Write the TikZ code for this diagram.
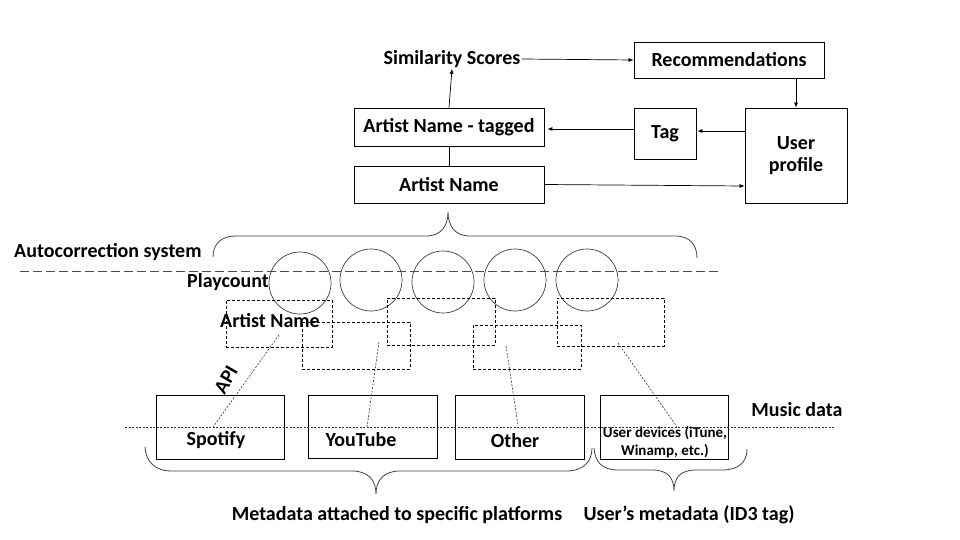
\documentclass[tikz,border=0pt]{standalone}
\usepackage{fontspec}
\setmainfont{Carlito}
\usetikzlibrary{arrows.meta,calc}
\begin{document}
\begin{tikzpicture}[x=1pt,y=-1pt,
  box/.style={draw, line width=0.8pt, inner sep=0pt, font=\fontsize{20}{22}\selectfont\bfseries, align=center},
  lbl/.style={inner sep=1pt, font=\fontsize{20}{22}\selectfont\bfseries, align=center},
  small/.style={inner sep=1pt, font=\fontsize{15}{18}\selectfont\bfseries, align=center},
  circ/.style={draw=black!75, circle, minimum size=62pt, inner sep=0pt, line width=0.7pt},
  drect/.style={draw, dash pattern=on 3pt off 2pt, line width=0.7pt, inner sep=0pt},
  arr/.style={-{Latex[length=5pt,width=4pt]}, line width=0.7pt},
  dline/.style={dash pattern=on 2pt off 1.5pt, line width=0.6pt, draw=black!80},
  longdash/.style={dash pattern=on 9pt off 4pt, line width=0.8pt, draw=black!70},
  brace/.style={line width=0.8pt, draw=black!75}
]
\useasboundingbox (0,0) rectangle (960,540);

% top part
\node[box, minimum width=190pt, minimum height=36pt] (rec) at (729,60) {Recommendations};
\node[box, minimum width=190pt, minimum height=38pt] (tagged) at (449,127) {Artist Name - tagged};
\node[box, minimum width=190pt, minimum height=37pt] (an) at (449,184.5) {Artist Name};
\node[box, minimum width=62pt, minimum height=51pt] (tag) at (665,133.5) {Tag};
\node[box, minimum width=102pt, minimum height=95pt] (up) at (796,155.5) {User\\profile};
\node[lbl] (ss) at (452,59) {Similarity Scores};

\draw[arr] (ss.east) -- (rec.west);
\draw[arr] (tagged.north) -- (ss.south);
\draw[line width=0.8pt] (an.north) -- (tagged.south);
\draw[arr] (up.north |- rec.south) -- (up.north);
\draw[arr] ($(up.west)+(0,-24.5)$) -- ($(tag.east)+(1,-2.5)$);
\draw[arr] ($(tag.west)+(0,-4.5)$) -- ($(tagged.east)+(3,2)$);
\draw[arr] (an.east) -- ($(up.west)+(0,30.5)$);

% autocorrection brace
\draw[brace] (213,257) .. controls (213,244) and (221,236) .. (236,236) -- (426,236)
  .. controls (441,236) and (448,226) .. (448,212)
  .. controls (448,226) and (455,236) .. (470,236) -- (675,236)
  .. controls (690,236) and (697,245) .. (697,258);
\node[lbl, anchor=west] (auto) at (13,252) {Autocorrection system};
\coordinate (dl1) at (20,271);
\coordinate (dl2) at (720,271);
\draw[longdash] (dl1) -- (dl2);
\node[lbl] (pc) at (228,282) {Playcount};

% circles
\node[circ] (c1) at (300,283) {};
\node[circ] (c2) at (371,280) {};
\node[circ] (c3) at (443,282) {};
\node[circ] (c4) at (515,280) {};
\node[circ] (c5) at (587,280) {};

% dashed rectangles
\node[drect, minimum width=106pt, minimum height=47pt] (r1) at (279,323.5) {};
\node[drect, minimum width=108pt, minimum height=47pt] (r2) at (356,345.5) {};
\node[drect, minimum width=108pt, minimum height=47pt] (r3) at (441,321.5) {};
\node[drect, minimum width=108pt, minimum height=44pt] (r4) at (527,347) {};
\node[drect, minimum width=107pt, minimum height=48pt] (r5) at (610.5,322) {};
\node[lbl] (anl) at (270,321) {Artist Name};

% bottom boxes
\node[box, minimum width=128pt, minimum height=64pt] (sp) at (220,427) {};
\node[box, minimum width=129pt, minimum height=63pt] (yt) at (372.5,426.5) {};
\node[box, minimum width=129pt, minimum height=64pt] (ot) at (519.5,427) {};
\node[box, minimum width=128pt, minimum height=64pt] (ud) at (664,427) {};
\node[lbl] (spt) at (216,440) {Spotify};
\node[lbl] (ytt) at (361,440) {YouTube};
\node[lbl] (ott) at (515,441) {Other};
\node[small] (udt) at (665,442) {User devices (iTune,\\Winamp, etc.)};

\coordinate (ml1) at (125,427);
\coordinate (ml2) at (835,427);
\draw[dline] (ml1) -- (ml2);
\node[lbl] (md) at (797,410) {Music data};

% dotted connections
\coordinate (s1) at (279,335); \coordinate (e1) at (213,427);
\coordinate (s2) at (379,342); \coordinate (e2) at (367,427);
\coordinate (s3) at (506,346); \coordinate (e3) at (518,425);
\coordinate (s4) at (618,343); \coordinate (e4) at (677,427);
\draw[dline] (s1) -- (e1);
\draw[dline] (s2) -- (e2);
\draw[dline] (s3) -- (e3);
\draw[dline] (s4) -- (e4);
\node[lbl, rotate=60, inner sep=0pt] (api) at (226,380) {API};

% bottom braces
\draw[brace] (145,447) .. controls (146,462) and (155,471) .. (172,471) -- (352,471)
  .. controls (368,471) and (376,480) .. (376,494)
  .. controls (376,480) and (384,471) .. (400,471) -- (566,471)
  .. controls (583,471) and (592,462) .. (592,448);
\draw[brace] (594,448) .. controls (595,462) and (602,470) .. (618,470) -- (652,470)
  .. controls (668,470) and (674,478) .. (674,491)
  .. controls (674,478) and (680,470) .. (696,470) -- (722,470)
  .. controls (739,470) and (747,462) .. (747,449);
\node[lbl] (meta) at (397,515) {Metadata attached to specific platforms};
\node[lbl] (umeta) at (689,515) {User’s metadata (ID3 tag)};
\end{tikzpicture}
\end{document}
